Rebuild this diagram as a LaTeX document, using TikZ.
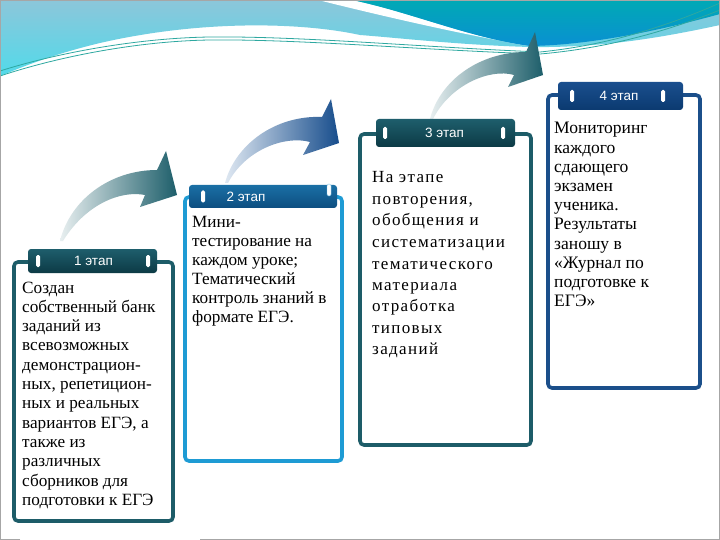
\documentclass[tikz,border=0pt]{standalone}
\usepackage{fontspec}
\setmainfont{Liberation Serif}
\newfontfamily\labfont{Liberation Sans}
\definecolor{lbtop}{HTML}{8CC6DA}
\definecolor{lbbot}{HTML}{52DAEA}
\definecolor{tltop}{HTML}{00A9B5}
\definecolor{tlbot}{HTML}{0A90D2}
\definecolor{wline}{HTML}{2EA8A0}
\definecolor{frteal}{HTML}{1D5C68}
\definecolor{frlblue}{HTML}{1E9BD4}
\definecolor{frdblue}{HTML}{1B4F8A}
\definecolor{tabtealtop}{HTML}{1E5E6C}
\definecolor{tabtealbot}{HTML}{0C3A45}
\definecolor{tabbluetop}{HTML}{1A6FA5}
\definecolor{tabbluebot}{HTML}{0D4E80}
\definecolor{tabnavytop}{HTML}{1A4F8E}
\definecolor{tabnavybot}{HTML}{0B3A70}
\definecolor{arpale}{HTML}{E8EFF0}
\definecolor{arteal}{HTML}{1D5E6A}
\definecolor{arpaleb}{HTML}{DFE8F2}
\definecolor{arblue}{HTML}{174D8C}
\tikzset{
 frame/.style={draw, line width=3.6pt, rounded corners=4pt, fill=white, inner sep=0pt},
 tabbox/.style={rounded corners=3pt, inner sep=0pt},
 pin/.style={fill=white, rounded corners=1.5pt, minimum width=4pt, minimum height=12pt, inner sep=0pt},
 tablabel/.style={text=white, font=\labfont\fontsize{13.5}{15}\selectfont, inner sep=0pt},
 bodytext/.style={anchor=base west, inner sep=0pt},
}
\begin{document}
\begin{tikzpicture}[x=1pt,y=-1pt]
\useasboundingbox (0,0) rectangle (720,540);
\fill[white] (0,0) rectangle (720,540);
% waves
\shade[top color=lbtop, bottom color=lbbot] (0,0) -- (720,0) -- (720,25)
  .. controls (660,38) and (600,48) .. (530,47)
  .. controls (460,45) and (400,38) .. (360,35)
  .. controls (300,22) and (200,20) .. (100,43)
  .. controls (50,55) and (20,68) .. (0,76) -- cycle;
\fill[white] (318,0) -- (352,0) .. controls (410,12) and (470,38) .. (530,46)
  .. controls (470,36) and (390,18) .. (318,0) -- cycle;
\shade[top color=tltop, bottom color=tlbot] (352,0) .. controls (410,12) and (470,38) .. (530,46)
  .. controls (600,45) and (680,25) .. (720,14) -- (720,0) -- cycle;
\draw[wline, line width=0.8pt] (0,71) .. controls (60,52) and (140,38) .. (210,37)
  .. controls (300,36) and (420,47) .. (540,52) .. controls (610,45) and (670,25) .. (720,3);
\draw[wline, line width=0.8pt] (0,76) .. controls (60,56) and (140,41) .. (210,40)
  .. controls (300,39) and (420,50) .. (540,54) .. controls (610,48) and (670,30) .. (720,10);
% arrows
\shade[left color=arpale, right color=arteal] (60,241) .. controls (70,200) and (110,170) .. (157,170)
  -- (166,151) -- (177,195) -- (140,207) -- (145,195)
  .. controls (120,190) and (85,205) .. (63,241) -- cycle;
\shade[left color=arpaleb, right color=arblue] (225,183) .. controls (235,145) and (275,115) .. (322,117)
  -- (331,99) -- (339,143) -- (303,155) -- (310,142)
  .. controls (285,135) and (245,150) .. (228,183) -- cycle;
\shade[left color=arpale, right color=arteal] (430,119) .. controls (440,80) and (480,52) .. (526,52)
  -- (535,32) -- (543,75) -- (508,87) -- (514,75)
  .. controls (490,68) and (450,85) .. (433,119) -- cycle;
% boxes
\node[frame, draw=frteal, minimum width=159pt, minimum height=259pt] (b1) at (93.5,391.5) {};
\node[frame, draw=frlblue, minimum width=157pt, minimum height=264pt] (b2) at (263.5,329) {};
\node[frame, draw=frteal, minimum width=171pt, minimum height=311pt] (b3) at (445.5,289.5) {};
\node[frame, draw=frdblue, minimum width=152pt, minimum height=293pt] (b4) at (624,241.5) {};
% tabs
\node[tabbox, top color=tabtealtop, bottom color=tabtealbot, minimum width=129pt, minimum height=24pt] (t1) at (92.5,261) {};
\node[tabbox, top color=tabbluetop, bottom color=tabbluebot, minimum width=148pt, minimum height=23pt] (t2) at (263,196.5) {};
\node[tabbox, top color=tabtealtop, bottom color=tabtealbot, minimum width=139pt, minimum height=28pt] (t3) at (445.5,133) {};
\node[tabbox, top color=tabnavytop, bottom color=tabnavybot, minimum width=125pt, minimum height=28pt] (t4) at (620.5,96) {};
% pins
\node[pin] (p1a) at (38,261) {};
\node[pin] (p1b) at (148,261) {};
\node[pin] (p2a) at (203,196.5) {};
\node[pin, draw=frlblue!50, line width=0.4pt] (p2b) at (329,190) {};
\node[pin] (p3a) at (385,133) {};
\node[pin] (p3b) at (503,133) {};
\node[pin] (p4a) at (572,96) {};
\node[pin] (p4b) at (663,96) {};
% tab labels
\node[tablabel] (l1) at (93.5,261) {1 этап};
\node[tablabel] (l2) at (246,196.5) {2 этап};
\node[tablabel] (l3) at (444.5,133) {3 этап};
\node[tablabel] (l4) at (619,96) {4 этап};
% texts
\node[bodytext] (x1) at (22,293) {\parbox[t]{160pt}{\fontsize{17.2}{19.3}\selectfont\raggedright
Создан\\собственный банк\\заданий из\\всевозможных\\демонстрацион-\\ных, репетицион-\\ных и реальных\\вариантов ЕГЭ, а\\также из\\различных\\сборников для\\подготовки к ЕГЭ}};
\node[bodytext] (x2) at (192,227) {\parbox[t]{160pt}{\fontsize{17.2}{19.1}\selectfont\raggedright
Мини-\\тестирование на\\каждом уроке;\\Тематический\\контроль знаний в\\формате ЕГЭ.}};
\node[bodytext] (x3) at (372,183) {\parbox[t]{170pt}{\addfontfeature{LetterSpace=8}\fontsize{17}{21.5}\selectfont\raggedright
На этапе\\повторения,\\обобщения и\\систематизации\\тематического\\материала\\отработка\\типовых\\заданий}};
\node[bodytext] (x4) at (554,134) {\parbox[t]{150pt}{\fontsize{17.5}{19.2}\selectfont\raggedright
Мониторинг\\каждого\\сдающего\\экзамен\\ученика.\\Результаты\\заношу в\\«Журнал по\\подготовке к\\ЕГЭ»}};
% border
\draw[gray!70, line width=1pt] (20,539.5) -- (0.5,539.5) -- (0.5,0.5) -- (719.5,0.5) -- (719.5,539.5) -- (200,539.5);
\end{tikzpicture}
\end{document}
